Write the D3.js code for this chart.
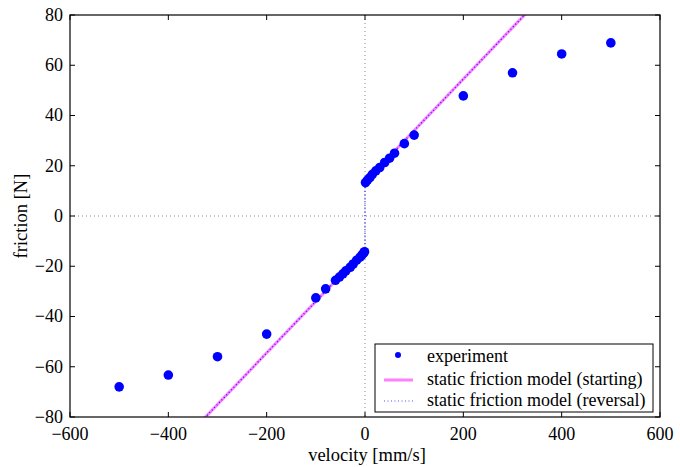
<!DOCTYPE html>
<html><head><meta charset="utf-8">
<script src="https://cdn.jsdelivr.net/npm/d3@7"></script>
<style>body{margin:0;background:#fff}svg{display:block}</style>
</head><body>
<svg id="c" width="680" height="467"></svg>
<script>
// Experiment data
const expVelocity = [-500,-400,-300,-200,-100,-80,-60,-52,-45,-39,-30,-24,-17,-10,-6,-3,-1,
                     1,5,10,15,22,30,40,50,60,80,100,200,300,400,500];
const expFriction = [-68,-63.3,-56,-47,-32.6,-29,-25.6,-24.3,-23,-21.8,-20.4,-19.1,-17.6,-16.4,-15.5,-14.8,-14.2,
                     13.3,14.3,15.3,16.6,18,19.3,21.3,23,25,28.8,32.2,47.8,57,64.5,68.9];
// Static friction model (starting): two branches
const startNegV = [-400, 0], startNegF = [-95.5, -13.5];
const startPosV = [0, 400],  startPosF = [13.5, 95.5];
// Static friction model (reversal): continuous through zero
const revV = [-400, 0, 0, 400], revF = [-95.5, -13.5, 13.5, 95.5];
// Axis ticks
const xTicks = [-600,-400,-200,0,200,400,600];
const yTicks = [-80,-60,-40,-20,0,20,40,60,80];
const legendLabels = ["experiment","static friction model (starting)","static friction model (reversal)"];

const FONT = "Liberation Serif";
const L=70,R=660,T=15,B=417;
const svg=d3.select("#c");
const x=d3.scaleLinear().domain([-600,600]).range([L,R]);
const y=d3.scaleLinear().domain([-80,80]).range([B,T]);
svg.append("clipPath").attr("id","clip").append("rect").attr("x",L).attr("y",T).attr("width",R-L).attr("height",B-T);

const g=svg.append("g").attr("clip-path","url(#clip)");
g.append("line").attr("x1",x(0)).attr("x2",x(0)).attr("y1",T).attr("y2",B)
 .attr("stroke","#888").attr("stroke-dasharray","1,3").attr("stroke-width",1);
g.append("line").attr("x1",L).attr("x2",R).attr("y1",y(0)).attr("y2",y(0))
 .attr("stroke","#888").attr("stroke-dasharray","1,3").attr("stroke-width",1);

const line=d3.line().x(d=>x(d[0])).y(d=>y(d[1]));
[[startNegV,startNegF],[startPosV,startPosF]].forEach(([v,f])=>{
  g.append("path").attr("d",line(d3.zip(v,f))).attr("fill","none")
   .attr("stroke","#ff80ff").attr("stroke-width",3);
});
g.append("path").attr("d",line(d3.zip(revV,revF))).attr("fill","none")
 .attr("stroke","#2020ff").attr("stroke-width",1.3).attr("stroke-dasharray","1,2.5");

g.selectAll("circle.e").data(d3.zip(expVelocity,expFriction)).join("circle").attr("class","e")
 .attr("cx",d=>x(d[0])).attr("cy",d=>y(d[1])).attr("r",4.8).attr("fill","#0000ff");

svg.append("rect").attr("x",L).attr("y",T).attr("width",R-L).attr("height",B-T)
 .attr("fill","none").attr("stroke","#000").attr("stroke-width",1.2);
const tl=5;
const fmt=t=>String(t).replace("-","\u2212");
function txt(sel,fs){ return sel.append("text").style("font-family",FONT).attr("font-size",fs||18).attr("fill","#000"); }
xTicks.forEach(t=>{
  svg.append("line").attr("x1",x(t)).attr("x2",x(t)).attr("y1",B).attr("y2",B-tl).attr("stroke","#000");
  svg.append("line").attr("x1",x(t)).attr("x2",x(t)).attr("y1",T).attr("y2",T+tl).attr("stroke","#000");
  txt(svg).attr("x",x(t)).attr("y",B+23).attr("text-anchor","middle").text(fmt(t));
});
yTicks.forEach(t=>{
  svg.append("line").attr("x1",L).attr("x2",L+tl).attr("y1",y(t)).attr("y2",y(t)).attr("stroke","#000");
  svg.append("line").attr("x1",R).attr("x2",R-tl).attr("y1",y(t)).attr("y2",y(t)).attr("stroke","#000");
  txt(svg).attr("x",L-7).attr("y",y(t)).attr("dy","0.33em").attr("text-anchor","end").text(fmt(t));
});
txt(svg,18.5).attr("x",(L+R)/2 + 2).attr("y",461).attr("text-anchor","middle").text("velocity [mm/s]");
txt(svg,18.5).attr("transform",`translate(27,${(T+B)/2}) rotate(-90)`).attr("text-anchor","middle").text("friction [N]");

const lg=svg.append("g");
lg.append("rect").attr("x",375).attr("y",344).attr("width",278).attr("height",68).attr("fill","#fff").attr("stroke","#000").attr("stroke-width",1);
const rows=[357,380,401];
lg.append("circle").attr("cx",398).attr("cy",rows[0]-2).attr("r",3).attr("fill","#0000ff");
lg.append("line").attr("x1",384).attr("x2",413).attr("y1",rows[1]).attr("y2",rows[1]).attr("stroke","#ff80ff").attr("stroke-width",3);
lg.append("line").attr("x1",384).attr("x2",413).attr("y1",rows[2]).attr("y2",rows[2]).attr("stroke","#5050ff").attr("stroke-width",1.2).attr("stroke-dasharray","1,2.5");
legendLabels.forEach((s,i)=>{
  txt(lg).attr("x",427).attr("y",rows[i]).attr("dy","0.3em").text(s);
});
</script>
</body></html>
